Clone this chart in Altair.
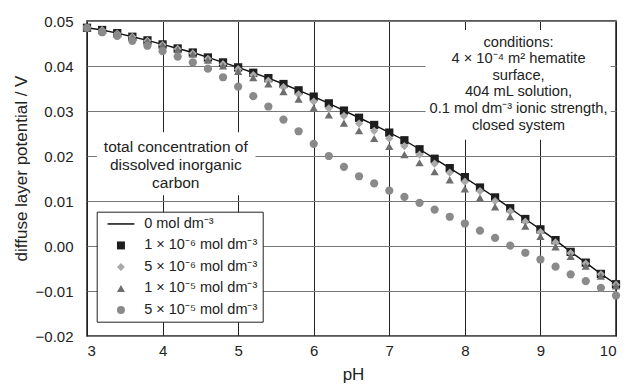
import altair as alt
import pandas as pd

ph = [3.0, 3.2, 3.4, 3.6, 3.8, 4.0, 4.2, 4.4, 4.6, 4.8, 5.0, 5.2, 5.4, 5.6, 5.8, 6.0,
      6.2, 6.4, 6.6, 6.8, 7.0, 7.2, 7.4, 7.6, 7.8, 8.0, 8.2, 8.4, 8.6, 8.8, 9.0, 9.2,
      9.4, 9.6, 9.8, 10.0]

psi_0 = [0.0485, 0.0480, 0.0473, 0.0465, 0.0457, 0.0448, 0.0439, 0.0430, 0.0419, 0.0408,
         0.0397, 0.0385, 0.0373, 0.0360, 0.0346, 0.0332, 0.0317, 0.0301, 0.0285, 0.0269,
         0.0252, 0.0235, 0.0215, 0.0194, 0.0173, 0.0152, 0.0130, 0.0108, 0.0084, 0.0060,
         0.0037, 0.0013, -0.0013, -0.0037, -0.0062, -0.0085]

psi_1e6 = [0.0485, 0.0480, 0.0473, 0.0465, 0.0457, 0.0448, 0.0439, 0.0430, 0.0419, 0.0408,
           0.0397, 0.0385, 0.0373, 0.0360, 0.0346, 0.0332, 0.0317, 0.0301, 0.0285, 0.0269,
           0.0252, 0.0235, 0.0215, 0.0194, 0.0173, 0.0153, 0.0130, 0.0108, 0.0084, 0.0060,
           0.0037, 0.0013, -0.0013, -0.0037, -0.0062, -0.0085]

psi_5e6 = [0.0485, 0.0480, 0.0472, 0.0465, 0.0456, 0.0447, 0.0438, 0.0428, 0.0416, 0.0404,
           0.0393, 0.0380, 0.0367, 0.0353, 0.0337, 0.0321, 0.0306, 0.0289, 0.0272, 0.0256,
           0.0239, 0.0222, 0.0203, 0.0183, 0.0163, 0.0143, 0.0122, 0.0100, 0.0077, 0.0054,
           0.0031, 0.0008, -0.0016, -0.0039, -0.0063, -0.0086]

psi_1e5 = [0.0485, 0.0479, 0.0472, 0.0464, 0.0455, 0.0446, 0.0436, 0.0426, 0.0413, 0.0400,
           0.0388, 0.0374, 0.0360, 0.0343, 0.0326, 0.0307, 0.0291, 0.0273, 0.0256, 0.0239,
           0.0221, 0.0203, 0.0185, 0.0165, 0.0147, 0.0127, 0.0107, 0.0087, 0.0065, 0.0044,
           0.0021, -0.0002, -0.0023, -0.0045, -0.0067, -0.0089]

psi_5e5 = [0.0485, 0.0475, 0.0467, 0.0456, 0.0445, 0.0433, 0.0421, 0.0408, 0.0394, 0.0375,
           0.0354, 0.0333, 0.0310, 0.0281, 0.0255, 0.0227, 0.0200, 0.0176, 0.0155, 0.0139,
           0.0123, 0.0109, 0.0096, 0.0081, 0.0065, 0.0050, 0.0034, 0.0018, 0.0001, -0.0015,
           -0.0030, -0.0046, -0.0063, -0.0078, -0.0093, -0.0110]

labels = ["0 mol dm⁻³", "1 × 10⁻⁶ mol dm⁻³", "5 × 10⁻⁶ mol dm⁻³",
          "1 × 10⁻⁵ mol dm⁻³", "5 × 10⁻⁵ mol dm⁻³"]
shapes = ["M-3.35,-0.19H3.35V0.19H-3.35Z", "square", "diamond", "triangle-up", "circle"]
colors = ["#111111", "#1e1e1e", "#a9a9a9", "#6e6e6e", "#8a8a8a"]

x_ticks = [3, 4, 5, 6, 7, 8, 9, 10]
y_ticks = [-0.02, -0.01, 0.0, 0.01, 0.02, 0.03, 0.04, 0.05]

note_carbon = "total concentration of\ndissolved inorganic\ncarbon"
note_cond = ("conditions:\n4 × 10⁻⁴ m² hematite\nsurface,\n404 mL solution,\n"
             "0.1 mol dm⁻³ ionic strength,\nclosed system")

FONT = "Liberation Sans"

rows = []
for lab, vals in zip(labels[1:], [psi_1e6, psi_5e6, psi_1e5, psi_5e5]):
    for p, v in zip(ph, vals):
        rows.append({"pH": p, "psi": v, "series": lab})
pts = pd.DataFrame(rows)
line_df = pd.DataFrame({"pH": ph, "psi": psi_0})

boxes = pd.DataFrame({"x0": [3.13, 7.48], "x1": [5.23, 9.93],
                      "y0": [0.0113, 0.0236], "y1": [0.0253, 0.0480]})
notes = pd.DataFrame({"x": [4.175, 8.71], "y": [0.0210, 0.04429],
                      "t": [note_carbon, note_cond]})

xscale = alt.Scale(domain=[3, 10], nice=False, zero=False)
yscale = alt.Scale(domain=[-0.02, 0.05], nice=False, zero=False)

x_axis = alt.Axis(values=x_ticks, title="pH", format="d", grid=True, gridColor="#222",
                  gridWidth=1, labelPadding=19, labelBaseline="alphabetic",
                  titleX=266, titleY=43, titleBaseline="alphabetic", titleAlign="center")
y_axis = alt.Axis(values=y_ticks, title="diffuse layer potential / V", format=".2f",
                  grid=True, gridColor="#777", gridWidth=1, labelPadding=14,
                  titleX=-61, titleY=147, titleAngle=270, titleAlign="center",
                  titleBaseline="alphabetic")

rects = alt.Chart(boxes).mark_rect(fill="white").encode(
    x=alt.X("x0:Q", scale=xscale, axis=x_axis), x2="x1:Q",
    y=alt.Y("y0:Q", scale=yscale, axis=y_axis), y2="y1:Q")

line = alt.Chart(line_df).mark_line(color="#111111", strokeWidth=1.4).encode(
    x=alt.X("pH:Q", scale=xscale, axis=x_axis),
    y=alt.Y("psi:Q", scale=yscale, axis=y_axis))

points = alt.Chart(pts).mark_point(filled=True, size=68, opacity=1, strokeWidth=0).encode(
    x=alt.X("pH:Q", scale=xscale, axis=x_axis),
    y=alt.Y("psi:Q", scale=yscale, axis=y_axis),
    shape=alt.Shape("series:N", scale=alt.Scale(domain=labels, range=shapes),
                    legend=alt.Legend(title=None)),
    color=alt.Color("series:N", scale=alt.Scale(domain=labels, range=colors),
                    legend=alt.Legend(title=None)))

t1 = alt.Chart(notes.iloc[[0]]).mark_text(align="center", baseline="alphabetic", font=FONT,
                                          fontSize=15.5, color="#222", lineBreak="\n",
                                          lineHeight=18.3).encode(
    x=alt.X("x:Q", scale=xscale, axis=x_axis),
    y=alt.Y("y:Q", scale=yscale, axis=y_axis),
    text="t:N")
t2 = alt.Chart(notes.iloc[[1]]).mark_text(align="center", baseline="alphabetic", font=FONT,
                                          fontSize=14.7, color="#222", lineBreak="\n",
                                          lineHeight=16.6).encode(
    x=alt.X("x:Q", scale=xscale, axis=x_axis),
    y=alt.Y("y:Q", scale=yscale, axis=y_axis),
    text="t:N")

chart = alt.layer(rects, line, points, t1, t2).properties(
    width=529, height=315, autosize="none",
    padding={"left": 87, "top": 21, "right": 8, "bottom": 48},
    background="white"
).configure_view(stroke="#222", strokeWidth=1.5).configure_axis(
    labelFont=FONT, titleFont=FONT, labelFontSize=15, titleFontSize=17,
    labelColor="#222", titleColor="#222", titleFontWeight="normal",
    domain=False, ticks=False, tickSize=0
).configure_legend(
    orient="none", legendX=9.7, legendY=190.7, strokeColor="#222", fillColor="white",
    padding=5, labelFont=FONT, labelFontSize=14.5, labelColor="#222",
    symbolSize=64, symbolOffset=12, labelOffset=16, rowPadding=6.5,
    symbolStrokeWidth=0, symbolOpacity=1
)

chart.save("out.html", embed_options={"renderer": "svg", "actions": False})
